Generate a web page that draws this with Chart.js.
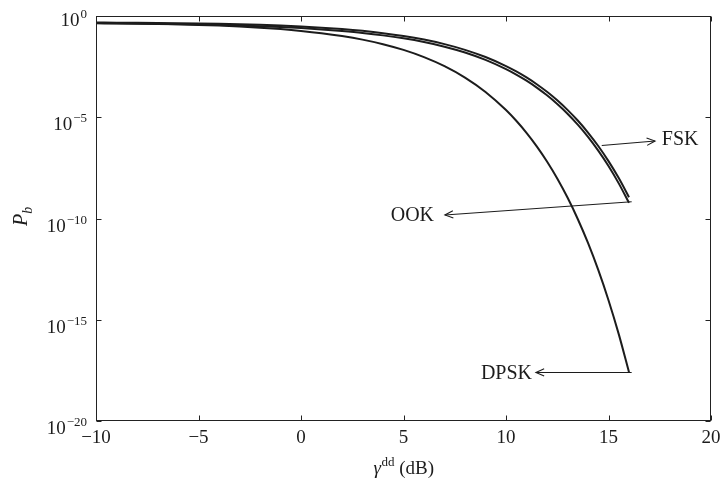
<!DOCTYPE html>
<html>
<head>
<meta charset="utf-8">
<script src="https://cdn.jsdelivr.net/npm/chart.js@4/dist/chart.umd.min.js"></script>
<style>
  html, body { margin: 0; padding: 0; background: #ffffff; }
  #wrap { width: 727px; height: 488px; }
</style>
</head>
<body>
<div id="wrap"><canvas id="c" width="727" height="488"></canvas></div>
<script>
// ---- data ----
const snrDb = [-10, -9, -8, -7, -6, -5, -4, -3, -2, -1, 0, 1, 2, 3, 4, 5, 6, 7, 8, 9, 10,
  10.5, 11, 11.5, 12, 12.5, 13, 13.5, 14, 14.5, 15, 15.5, 16];
const dpskPb = [0.4524, 0.4409, 0.4267, 0.4096, 0.3889, 0.3645, 0.3358, 0.3029, 0.2661, 0.2260,
  0.1839, 0.1420, 0.1025, 0.0680, 0.04057, 0.02117, 0.009333, 0.003328, 0.0009096, 1.775e-4,
  2.27e-5, 6.70e-6, 1.705e-6, 3.67e-7, 6.54e-8, 9.46e-9, 1.08e-9, 9.47e-11, 6.17e-12, 2.88e-13,
  9.25e-15, 1.95e-16, 2.57e-18];
const fskPb = [0.4756, 0.4695, 0.4619, 0.4525, 0.4410, 0.4269, 0.4098, 0.3892, 0.3647, 0.3361,
  0.3033, 0.2665, 0.2264, 0.1844, 0.1424, 0.1029, 0.0683, 0.0408, 0.02133, 0.00942,
  3.369e-3, 1.83e-3, 9.23e-4, 4.28e-4, 1.81e-4, 6.88e-5, 2.32e-5, 6.88e-6, 1.756e-6, 3.79e-7,
  6.79e-8, 9.87e-9, 1.13e-9];
const ookPb = [0.4337, 0.4263, 0.4176, 0.4073, 0.3947, 0.3804, 0.3610, 0.3390, 0.3140, 0.2860,
  0.2523, 0.2167, 0.1798, 0.1448, 0.1105, 0.0789, 0.0518, 0.0306, 0.01581, 0.00682,
  2.385e-3, 1.281e-3, 6.39e-4, 2.916e-4, 1.209e-4, 4.52e-5, 1.501e-5, 4.34e-6, 1.083e-6, 2.26e-7,
  3.91e-8, 5.43e-9, 5.94e-10];
const xTickValues = [-10, -5, 0, 5, 10, 15, 20];
const yTickExponents = [0, -5, -10, -15, -20];
const seriesNames = ['DPSK', 'OOK', 'FSK'];
// annotation arrows (data coordinates)
const arrowLabels = ['FSK', 'OOK', 'DPSK'];
const arrowStartX = [14.67, 16.13, 16.13];
const arrowStartY = [4.0e-7, 6.7e-10, 2.5e-18];
const arrowTipX = [17.27, 7.02, 11.46];
const arrowTipY = [6.7e-7, 1.5e-10, 2.5e-18];
const arrowTextX = [17.6, 6.49, 11.27];
const arrowTextY = [8.3e-7, 1.5e-10, 2.4e-18];
const arrowTextSide = ['left', 'right', 'right'];

const SERIF = '"Liberation Serif", "Times New Roman", serif';
const INK = '#1c1c1c';

function pts(ys) { return snrDb.map((x, i) => ({ x: x, y: ys[i] })); }

const decor = {
  id: 'decor',
  afterDraw(chart) {
    const ctx = chart.ctx;
    const ca = chart.chartArea;
    const xs = chart.scales.x, ys = chart.scales.y;
    ctx.save();
    // frame
    ctx.strokeStyle = '#222';
    ctx.lineWidth = 1;
    const L = Math.round(ca.left) + 0.5, R = Math.round(ca.right) - 0.5;
    const T = Math.round(ca.top) + 0.5, B = Math.round(ca.bottom) - 0.5;
    ctx.strokeRect(L, T, R - L, B - T);
    // inward ticks
    const tk = 5;
    ctx.beginPath();
    xTickValues.forEach(v => {
      const px = Math.round(xs.getPixelForValue(v)) + 0.5;
      ctx.moveTo(px, B); ctx.lineTo(px, B - tk);
      ctx.moveTo(px, T); ctx.lineTo(px, T + tk);
    });
    yTickExponents.forEach(e => {
      const py = Math.round(ys.getPixelForValue(Math.pow(10, e))) + 0.5;
      ctx.moveTo(L, py); ctx.lineTo(L + tk, py);
      ctx.moveTo(R, py); ctx.lineTo(R - tk, py);
    });
    ctx.stroke();

    // y tick labels 10^e
    ctx.fillStyle = INK;
    ctx.textBaseline = 'alphabetic';
    ctx.textAlign = 'left';
    const mainFont = '19px ' + SERIF, supFont = '13px ' + SERIF;
    yTickExponents.forEach(e => {
      const py = ys.getPixelForValue(Math.pow(10, e));
      const sup = e < 0 ? '\u2212' + Math.abs(e) : String(e);
      ctx.font = mainFont; const wm = ctx.measureText('10').width;
      ctx.font = supFont; const ws = ctx.measureText(sup).width;
      const right = ca.left - 9;
      const base = py + (e === 0 ? 10 : 13);
      ctx.font = mainFont; ctx.fillText('10', right - ws - wm - 1, base);
      ctx.font = supFont; ctx.fillText(sup, right - ws, base - 8);
    });

    // x axis title: gamma^dd (dB)
    const cx = (ca.left + ca.right) / 2;
    ctx.font = 'italic 19px ' + SERIF; const wg = ctx.measureText('\u03B3').width;
    ctx.font = '13px ' + SERIF; const wd = ctx.measureText('dd').width;
    ctx.font = '19px ' + SERIF; const wr = ctx.measureText(' (dB)').width;
    let x0 = cx - (wg + wd + wr) / 2;
    const tb = 474;
    ctx.font = 'italic 19px ' + SERIF; ctx.fillText('\u03B3', x0, tb);
    ctx.font = '13px ' + SERIF; ctx.fillText('dd', x0 + wg + 0.5, tb - 8);
    ctx.font = '19px ' + SERIF; ctx.fillText(' (dB)', x0 + wg + wd + 0.5, tb);

    // y axis title: P_b
    ctx.save();
    ctx.translate(27, 226);
    ctx.rotate(-Math.PI / 2);
    ctx.font = 'italic 20px ' + SERIF;
    const wp = ctx.measureText('P').width;
    ctx.fillText('P', 0, 0);
    ctx.font = 'italic 14px ' + SERIF;
    ctx.fillText('b', wp, 5);
    ctx.restore();

    // annotation arrows
    ctx.strokeStyle = INK;
    ctx.lineWidth = 1.1;
    arrowLabels.forEach((lab, i) => {
      const x1 = xs.getPixelForValue(arrowStartX[i]), y1 = ys.getPixelForValue(arrowStartY[i]);
      const x2 = xs.getPixelForValue(arrowTipX[i]), y2 = ys.getPixelForValue(arrowTipY[i]);
      ctx.beginPath(); ctx.moveTo(x1, y1); ctx.lineTo(x2, y2); ctx.stroke();
      const ang = Math.atan2(y2 - y1, x2 - x1);
      const hl = 9, ha = 0.42;
      ctx.beginPath();
      ctx.moveTo(x2 - hl * Math.cos(ang - ha), y2 - hl * Math.sin(ang - ha));
      ctx.lineTo(x2, y2);
      ctx.lineTo(x2 - hl * Math.cos(ang + ha), y2 - hl * Math.sin(ang + ha));
      ctx.stroke();
      ctx.font = '20px ' + SERIF;
      ctx.textAlign = arrowTextSide[i];
      ctx.textBaseline = 'middle';
      ctx.fillText(lab, xs.getPixelForValue(arrowTextX[i]), ys.getPixelForValue(arrowTextY[i]) + 1);
    });
    ctx.restore();
  }
};

const lineStyle = {
  borderColor: INK,
  backgroundColor: INK,
  borderWidth: 2,
  pointRadius: 0,
  fill: false,
  cubicInterpolationMode: 'monotone'
};

new Chart(document.getElementById('c'), {
  type: 'line',
  data: {
    datasets: [
      Object.assign({ label: seriesNames[0], data: pts(dpskPb) }, lineStyle),
      Object.assign({ label: seriesNames[1], data: pts(ookPb) }, lineStyle),
      Object.assign({ label: seriesNames[2], data: pts(fskPb) }, lineStyle)
    ]
  },
  options: {
    responsive: false,
    devicePixelRatio: 1,
    animation: false,
    layout: { padding: { top: 16, right: 16, left: 0, bottom: 0 } },
    plugins: { legend: { display: false }, tooltip: { enabled: false } },
    scales: {
      x: {
        type: 'linear',
        min: -10, max: 20,
        afterBuildTicks: s => { s.ticks = xTickValues.map(v => ({ value: v })); },
        afterFit: s => { s.height = 67; },
        grid: { display: false, drawTicks: false },
        border: { display: false },
        ticks: {
          padding: 6,
          color: INK,
          font: { family: SERIF, size: 19 },
          maxRotation: 0,
          autoSkip: false,
          callback: v => (v < 0 ? '\u2212' + Math.abs(v) : String(v))
        }
      },
      y: {
        type: 'logarithmic',
        min: 1e-20, max: 1,
        afterBuildTicks: s => { s.ticks = yTickExponents.map(e => ({ value: Math.pow(10, e) })); },
        afterFit: s => { s.width = 96; },
        grid: { display: false, drawTicks: false },
        border: { display: false },
        ticks: { display: false }
      }
    }
  },
  plugins: [decor]
});
</script>
</body>
</html>
